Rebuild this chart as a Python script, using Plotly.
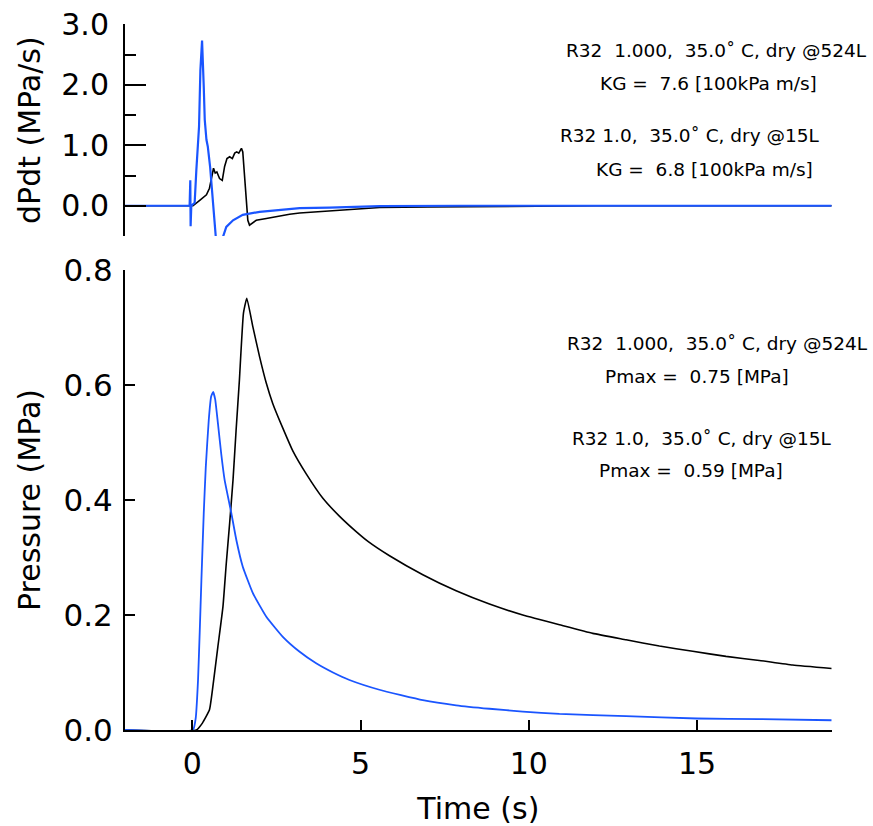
import plotly.graph_objects as go

# ---------------- data ----------------
# Pressure, 524 L vessel (black)
t_p524 = [-2, 0.12, 0.30, 0.51, 0.61, 0.76, 0.91, 1.01, 1.11, 1.21, 1.30, 1.40, 1.52, 1.62,
          1.80, 2.0, 2.20, 2.39, 2.69, 2.99, 3.39, 3.88, 4.37, 4.87, 5.22, 5.86, 6.85, 7.84,
          8.83, 9.82, 10.91, 11.9, 12.89, 13.88, 14.87, 15.86, 16.85, 17.84, 19.0]
p524 = [0, 0, 0.012, 0.035, 0.075, 0.145, 0.214, 0.29, 0.36, 0.435, 0.52, 0.609, 0.725, 0.751,
        0.701, 0.649, 0.603, 0.568, 0.525, 0.485, 0.445, 0.403, 0.372, 0.345, 0.328, 0.303, 0.270, 0.242,
        0.219, 0.200, 0.183, 0.168, 0.157, 0.146, 0.137, 0.128, 0.121, 0.113, 0.107]

# Pressure, 15 L vessel (blue)
t_p15 = [-2, 0.02, 0.10, 0.17, 0.22, 0.27, 0.34, 0.40, 0.49, 0.56, 0.62, 0.68, 0.76, 0.86, 0.96,
         1.16, 1.31, 1.50, 1.80, 2.20, 2.69, 3.19, 3.68, 4.18, 4.67, 5.56, 6.85, 7.84, 8.83, 9.82,
         10.91, 12.89, 15.0, 16.85, 19.0]
p15 = [0, 0, 0.02, 0.087, 0.17, 0.26, 0.377, 0.457, 0.54, 0.58, 0.588, 0.575, 0.534, 0.48, 0.435,
       0.377, 0.330, 0.284, 0.238, 0.197, 0.162, 0.136, 0.116, 0.10, 0.087, 0.070, 0.052, 0.043, 0.037, 0.032,
       0.028, 0.024, 0.020, 0.019, 0.017]

# dP/dt, 524 L (black)
t_d524 = [-2, 0.02, 0.22, 0.42, 0.51, 0.59, 0.63, 0.68, 0.73, 0.81, 0.89, 0.96, 1.03, 1.11, 1.19,
          1.26, 1.32, 1.38, 1.46, 1.50, 1.55, 1.60, 1.65, 1.70, 1.90, 2.20, 2.49, 2.89, 3.19,
          4.08, 5.57, 7.0, 9.0, 12.0, 19.0]
d524 = [0, 0, 0.09, 0.18, 0.29, 0.48, 0.62, 0.54, 0.56, 0.45, 0.42, 0.65, 0.78, 0.81, 0.78,
        0.87, 0.89, 0.87, 0.95, 0.89, 0.54, 0.1, -0.24, -0.32, -0.24, -0.21, -0.18, -0.14, -0.12,
        -0.09, -0.03, -0.02, -0.01, 0, 0]

# dP/dt, 15 L (blue)
t_d15 = [-2, -0.08, -0.06, -0.05, -0.03, 0.07, 0.12, 0.20, 0.24, 0.29, 0.34, 0.37, 0.42, 0.46,
         0.53, 0.59, 0.66, 0.71, 0.86, 1.01, 1.21, 1.50, 2.0, 2.69, 3.19, 4.08, 5.57, 8.0, 12.0, 19.0]
d15 = [0, 0, 0.42, -0.34, 0.0, 0.05, 0.59, 1.31, 2.24, 2.73, 1.97, 1.42, 1.09, 0.98,
       0.64, 0.26, -0.18, -0.6, -0.6, -0.35, -0.24, -0.15, -0.10, -0.06, -0.04, -0.03, -0.005, 0, 0, 0]

x_ticks = [0, 5, 10, 15]
p_ticks = [0.0, 0.2, 0.4, 0.6, 0.8]
p_ticklabels = ["0.0", "0.2", "0.4", "0.6", "0.8"]
d_ticks = [0.0, 1.0, 2.0, 3.0]
d_ticklabels = ["0.0", "1.0", "2.0", "3.0"]

label_524 = "R32  1.000,  35.0˚ C, dry @524L"
label_15 = "R32 1.0,  35.0˚ C, dry @15L"
kg_524 = "KG =  7.6 [100kPa m/s]"
kg_15 = "KG =  6.8 [100kPa m/s]"
pmax_524 = "Pmax =  0.75 [MPa]"
pmax_15 = "Pmax =  0.59 [MPa]"

BLACK = "#000000"
BLUE = "#1a55ff"
W, H = 873, 826
FONT = "DejaVu Sans"

fig = go.Figure()
fig.add_trace(go.Scatter(x=t_p524, y=p524, mode="lines", line=dict(color=BLACK, width=1.6, shape="spline", smoothing=0.4),
                         xaxis="x", yaxis="y", showlegend=False))
fig.add_trace(go.Scatter(x=t_p15, y=p15, mode="lines", line=dict(color=BLUE, width=1.8, shape="spline", smoothing=0.4),
                         xaxis="x", yaxis="y", showlegend=False))
fig.add_trace(go.Scatter(x=t_d524, y=d524, mode="lines", line=dict(color=BLACK, width=1.6),
                         xaxis="x2", yaxis="y2", showlegend=False))
fig.add_trace(go.Scatter(x=t_d15, y=d15, mode="lines", line=dict(color=BLUE, width=2.2),
                         xaxis="x2", yaxis="y2", showlegend=False))

x0p, x1p = 125 / W, 831.7 / W


def py(v):
    return 1 - v / H


fig.update_layout(
    width=W, height=H,
    margin=dict(l=0, r=0, t=0, b=0, autoexpand=False),
    paper_bgcolor="white", plot_bgcolor="white",
    font=dict(family=FONT, color="black"),
    xaxis=dict(domain=[x0p, x1p], range=[-2, 19], anchor="y", automargin=False,
               showgrid=False, zeroline=False, showline=True, linecolor="black", linewidth=2,
               ticks="inside", ticklen=10, tickwidth=1.5, tickcolor="black",
               tickvals=x_ticks, tickfont=dict(size=30, family=FONT),
               ticklabelstandoff=6,
               title=dict(text="Time (s)", font=dict(size=30, family=FONT), standoff=18)),
    yaxis=dict(domain=[py(730), py(270)], range=[0, 0.8], anchor="x", automargin=False,
               showgrid=False, zeroline=False, showline=True, linecolor="black", linewidth=2,
               ticks="inside", ticklen=10, tickwidth=1.5, tickcolor="black",
               tickvals=p_ticks, ticktext=p_ticklabels, tickfont=dict(size=31, family=FONT),
               ticklabelstandoff=4,
               title=dict(text="Pressure (MPa)", font=dict(size=30, family=FONT), standoff=14)),
    xaxis2=dict(domain=[x0p, x1p], range=[-2, 19], anchor="y2", matches="x", visible=False,
                automargin=False),
    yaxis2=dict(domain=[py(236), py(24.3)], range=[-0.5, 3.0], anchor="x2", automargin=False,
                showgrid=False, zeroline=False, showline=True, linecolor="black", linewidth=2,
                ticks="inside", ticklen=21, tickwidth=1.5, tickcolor="black",
                tickvals=d_ticks, ticktext=d_ticklabels, tickfont=dict(size=30, family=FONT),
                ticklabelstandoff=8,
                minor=dict(ticks="inside", ticklen=11, tickwidth=1.5, tickcolor="black",
                           tickvals=[-0.5, 0.5, 1.5, 2.5]),
                title=dict(text="dPdt (MPa/s)", font=dict(size=30, family=FONT), standoff=12)),
)

ann = [
    (label_524, 716, 50.7),
    (kg_524, 708, 83.3),
    (label_15, 690, 136),
    (kg_15, 704, 169.3),
    (label_524, 717, 343),
    (pmax_524, 697, 376),
    (label_15, 702, 438),
    (pmax_15, 691, 471),
]
for text, cx, cy in ann:
    fig.add_annotation(text=text, x=cx / W, y=py(cy), xref="paper", yref="paper",
                       xanchor="center", yanchor="middle", showarrow=False,
                       font=dict(size=18.5, family=FONT, color="black"))

fig.write_html("out.html", config={"displayModeBar": False},
               post_script="document.body.style.margin='0';")
